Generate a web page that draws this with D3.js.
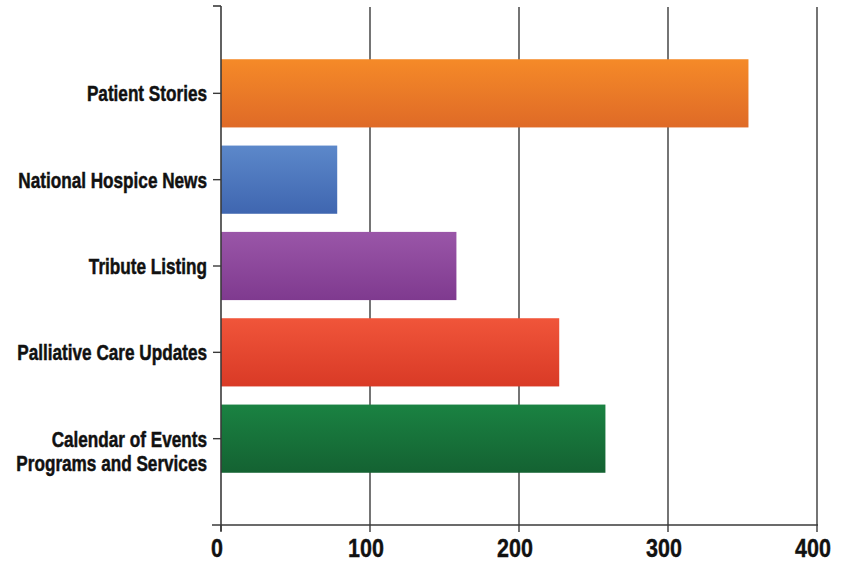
<!DOCTYPE html>
<html>
<head>
<meta charset="utf-8">
<script src="https://cdn.jsdelivr.net/npm/d3@7"></script>
<style>
  html, body { margin: 0; padding: 0; background: #fff; }
  svg { display: block; }
  .cat { font-family: "Liberation Sans", Arial, sans-serif; font-weight: bold; font-size: 22px; fill: #111; stroke: #111; stroke-width: 0.5px; }
  .num { font-family: "Liberation Sans", Arial, sans-serif; font-weight: bold; font-size: 25px; fill: #111; stroke: #111; stroke-width: 0.4px; }
</style>
</head>
<body>
<svg id="chart" width="841" height="562"></svg>
<script>
// Topics and their counts, top to bottom
const categories = [
  ["Patient Stories"],
  ["National Hospice News"],
  ["Tribute Listing"],
  ["Palliative Care Updates"],
  ["Calendar of Events", "Programs and Services"]
];
const values = [354, 78, 158, 227, 258];
const xTicks = [0, 100, 200, 300, 400];
// top / bottom gradient stops per bar
const barTop    = ["#f58a28", "#5c88ca", "#9a56a8", "#f0553a", "#1a8242"];
const barBottom = ["#df6a27", "#3f66b0", "#7f3a8f", "#d93a26", "#146232"];

const svg = d3.select("#chart");
const plotLeft = 221, plotRight = 817, plotTop = 7, plotBottom = 525;
// horizontal squeeze giving the labels a condensed look
const catSqueeze = 0.78, numSqueeze = 0.86;

const x = d3.scaleLinear().domain([0, 400]).range([plotLeft, plotRight]);
const y = d3.scaleBand()
  .domain(d3.range(categories.length))
  .range([plotTop, plotBottom])
  .paddingInner(0.21)
  .paddingOuter(0.605);

const defs = svg.append("defs");
barTop.forEach((c, i) => {
  const g = defs.append("linearGradient")
    .attr("id", "grad" + i)
    .attr("x1", 0).attr("y1", 0).attr("x2", 0).attr("y2", 1);
  g.append("stop").attr("offset", "0%").attr("stop-color", c);
  g.append("stop").attr("offset", "100%").attr("stop-color", barBottom[i]);
});

// vertical grid lines
svg.append("g")
  .selectAll("line")
  .data(xTicks.slice(1))
  .join("line")
  .attr("x1", d => x(d)).attr("x2", d => x(d))
  .attr("y1", plotTop).attr("y2", plotBottom)
  .attr("stroke", "#3a3a3a").attr("stroke-width", 1.4);

// bars
svg.append("g")
  .selectAll("rect")
  .data(values)
  .join("rect")
  .attr("x", x(0))
  .attr("y", (d, i) => y(i))
  .attr("width", d => x(d) - x(0))
  .attr("height", y.bandwidth())
  .attr("fill", (d, i) => `url(#grad${i})`);

// left axis: line plus ticks at the top and at each category
const axisColor = "#3a3a3a";
svg.append("line")
  .attr("x1", plotLeft).attr("x2", plotLeft)
  .attr("y1", plotTop - 1).attr("y2", plotBottom + 6)
  .attr("stroke", axisColor).attr("stroke-width", 1.6);
svg.append("line")
  .attr("x1", plotLeft - 8).attr("x2", plotLeft)
  .attr("y1", plotTop - 1).attr("y2", plotTop - 1)
  .attr("stroke", axisColor).attr("stroke-width", 1.6);

const catG = svg.append("g")
  .selectAll("g")
  .data(categories)
  .join("g")
  .attr("transform", (d, i) => `translate(0,${y(i) + y.bandwidth() / 2})`);
catG.append("line")
  .attr("x1", plotLeft - 8).attr("x2", plotLeft)
  .attr("stroke", axisColor).attr("stroke-width", 1.4);
catG.append("text")
  .attr("class", "cat")
  .attr("text-anchor", "end")
  .attr("transform", `translate(${plotLeft - 14},0) scale(${catSqueeze},1)`)
  .selectAll("tspan")
  .data(d => d)
  .join("tspan")
  .attr("x", 0)
  .attr("y", (d, j) => j * 24)
  .attr("dy", "0.36em")
  .text(d => d);

// bottom axis
svg.append("line")
  .attr("x1", plotLeft - 9).attr("x2", plotRight + 1)
  .attr("y1", plotBottom).attr("y2", plotBottom)
  .attr("stroke", axisColor).attr("stroke-width", 1.6);
const tickG = svg.append("g")
  .selectAll("g")
  .data(xTicks)
  .join("g")
  .attr("transform", d => `translate(${x(d)},${plotBottom})`);
tickG.append("line")
  .attr("y1", 0).attr("y2", 7)
  .attr("stroke", axisColor).attr("stroke-width", 1.4);
tickG.append("text")
  .attr("class", "num")
  .attr("text-anchor", "middle")
  .attr("transform", `translate(-4,32) scale(${numSqueeze},1)`)
  .text(d => d);
</script>
</body>
</html>
